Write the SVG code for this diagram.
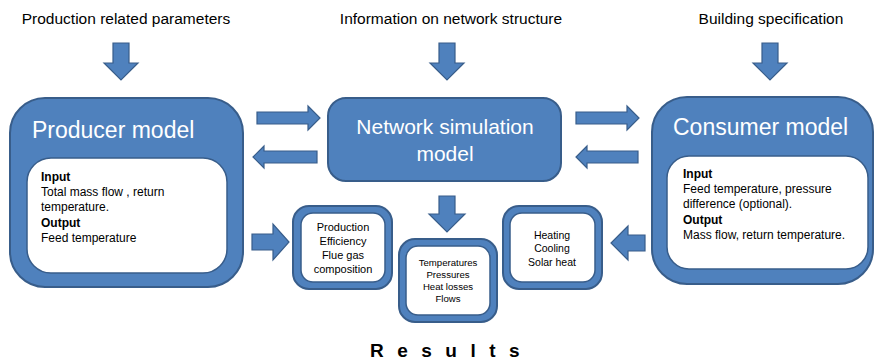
<svg xmlns="http://www.w3.org/2000/svg" width="875" height="361" viewBox="0 0 875 361">
<style>
.blue{fill:#4f81bd;stroke:#385d8a;stroke-width:2}
.white{fill:#ffffff;stroke:#385d8a;stroke-width:1.5}
.arrow{fill:#4f81bd;stroke:#385d8a;stroke-width:1.2}
text{font-family:"Liberation Sans",Arial,sans-serif;fill:#000}
.top{font-size:15.5px;text-anchor:middle}
.title{font-size:23px;fill:#ffffff}
.body{font-size:12px}
.b{font-weight:bold}
.small{font-size:11px;text-anchor:middle}
.tiny{font-size:9.6px;text-anchor:middle}
</style>
<rect width="875" height="361" fill="#ffffff"/>
<g id="labels">
<text class="top" x="126" y="24">Production related parameters</text>
<text class="top" x="451" y="24">Information on network structure</text>
<text class="top" x="771" y="24">Building specification</text>
</g>
<g id="connectors">
<polygon class="arrow" points="113,43 129,43 129,63 138,63 121,80 104,63 113,63"/>
<polygon class="arrow" points="439,43 455,43 455,63 464,63 447,80 430,63 439,63"/>
<polygon class="arrow" points="762,43 778,43 778,63 787,63 770,80 753,63 762,63"/>
<polygon class="arrow" points="257,112 308,112 308,106 320,118 308,130 308,124 257,124"/>
<polygon class="arrow" points="317,151 264,151 264,146 253,157 264,168 264,163 317,163"/>
<polygon class="arrow" points="576,112 627,112 627,106 639,118 627,130 627,124 576,124"/>
<polygon class="arrow" points="638,151 587,151 587,146 576,157 587,168 587,163 638,163"/>
<polygon class="arrow" points="439,196 455,196 455,214 465,214 447,232 429,214 439,214"/>
<polygon class="arrow" points="252,234 273,234 273,224 289,242 273,260 273,250 252,250"/>
<polygon class="arrow" points="645,235 628,235 628,226 611,243 628,260 628,251 645,251"/>
</g>
<g id="producer">
<rect class="blue" x="10" y="98" width="233" height="189" rx="35"/>
<rect class="white" x="27" y="158" width="200" height="115" rx="24"/>
<text class="title" x="32" y="138">Producer model</text>
<text class="body b" x="41" y="181">Input</text>
<text class="body" x="41" y="196">Total mass flow , return</text>
<text class="body" x="41" y="211">temperature.</text>
<text class="body b" x="41" y="227">Output</text>
<text class="body" x="41" y="242">Feed temperature</text>
</g>
<g id="network">
<rect class="blue" x="328" y="98" width="233" height="83" rx="18"/>
<text class="title" x="445" y="134" text-anchor="middle" style="font-size:21px">Network simulation</text>
<text class="title" x="445" y="161" text-anchor="middle" style="font-size:21px">model</text>
</g>
<g id="consumer">
<rect class="blue" x="652" y="97" width="221" height="187" rx="35"/>
<rect class="white" x="667" y="156" width="201" height="113" rx="22"/>
<text class="title" x="673" y="135">Consumer model</text>
<text class="body b" x="683" y="178">Input</text>
<text class="body" x="683" y="193">Feed temperature, pressure</text>
<text class="body" x="683" y="208">difference (optional).</text>
<text class="body b" x="683" y="224">Output</text>
<text class="body" x="683" y="239">Mass flow, return temperature.</text>
</g>
<g id="production-results">
<rect class="blue" x="293" y="206" width="99" height="83" rx="16"/>
<rect class="white" x="301" y="213" width="84" height="69" rx="12"/>
<text class="small" x="343" y="231">Production</text>
<text class="small" x="343" y="245">Efficiency</text>
<text class="small" x="343" y="259">Flue gas</text>
<text class="small" x="343" y="273">composition</text>
</g>
<g id="network-results">
<rect class="blue" x="399" y="239" width="98" height="83" rx="16"/>
<rect class="white" x="406" y="246" width="84" height="69" rx="12"/>
<text class="tiny" x="448" y="266">Temperatures</text>
<text class="tiny" x="448" y="278">Pressures</text>
<text class="tiny" x="448" y="290">Heat losses</text>
<text class="tiny" x="448" y="302">Flows</text>
</g>
<g id="consumer-results">
<rect class="blue" x="503" y="206" width="99" height="83" rx="16"/>
<rect class="white" x="510" y="213" width="85" height="69" rx="12"/>
<text class="small" x="552" y="239" style="font-size:10.5px">Heating</text>
<text class="small" x="552" y="252" style="font-size:10.5px">Cooling</text>
<text class="small" x="552" y="266" style="font-size:10.5px">Solar heat</text>
</g>
<g id="results-label">
<text x="370" y="357" style="font-size:19px;font-weight:bold;letter-spacing:13.5px">Results</text>
</g>
</svg>
